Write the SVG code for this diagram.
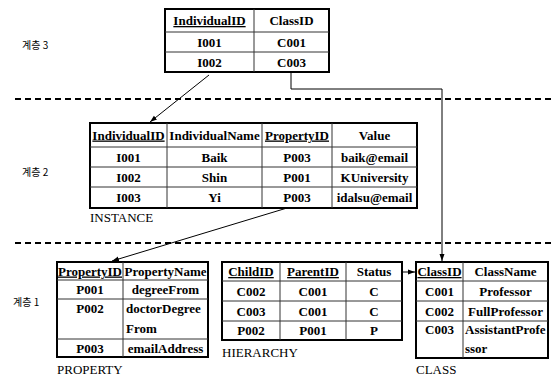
<svg xmlns="http://www.w3.org/2000/svg" width="555" height="376" viewBox="0 0 555 376">
<style>
.bg{fill:#fff}
.outer{fill:#fff;stroke:#000;stroke-width:2}
.grid{stroke:#333;stroke-width:1;fill:none}
.c{font-family:"Liberation Serif","Times New Roman",serif;font-weight:bold;font-size:13px;fill:#000;text-anchor:middle}
.l{font-family:"Liberation Serif","Times New Roman",serif;font-weight:bold;font-size:13px;fill:#000;text-anchor:start}
.u{text-decoration:underline}
.cap{font-family:"Liberation Serif","Times New Roman",serif;font-size:13px;fill:#000}
.layer{font-family:"Noto Sans CJK KR","Noto Sans",sans-serif;font-size:10px;fill:#000}
.dash{stroke:#000;stroke-width:2;stroke-dasharray:6 4;fill:none}
.conn{stroke:#000;stroke-width:1;fill:none}
</style>
<defs>
<marker id="arr" markerUnits="userSpaceOnUse" markerWidth="8" markerHeight="6" refX="7" refY="3" orient="auto">
<path d="M0,0.5 L7,3 L0,5.5 Z" fill="#000"/>
</marker>
</defs>
<rect class="bg" x="0" y="0" width="555" height="376"/>

<g id="separators">
<line class="dash" x1="15" y1="99" x2="555" y2="99"/>
<line class="dash" x1="15" y1="243" x2="555" y2="243"/>
</g>

<g id="layer-labels">
<text class="layer" x="22" y="49">계층 3</text>
<text class="layer" x="22" y="176">계층 2</text>
<text class="layer" x="13" y="306">계층 1</text>
</g>

<g id="table-layer3">
<rect class="outer" x="165" y="9" width="164" height="63"/>
<path class="grid" d="M254,9 V72 M165,32 H329 M165,52 H329"/>
<text class="c u" x="209.5" y="25">IndividualID</text>
<text class="c" x="291.5" y="25">ClassID</text>
<text class="c" x="209.5" y="46.5">I001</text>
<text class="c" x="291.5" y="46.5">C001</text>
<text class="c" x="209.5" y="66.5">I002</text>
<text class="c" x="291.5" y="66.5">C003</text>
</g>

<g id="table-instance">
<rect class="outer" x="90" y="123" width="327" height="85"/>
<path class="grid" d="M167,123 V208 M262,123 V208 M332,123 V208 M90,147 H417 M90,167 H417 M90,187 H417"/>
<text class="c u" x="128.5" y="139.5">IndividualID</text>
<text class="c" x="214.5" y="139.5">IndividualName</text>
<text class="c u" x="297" y="139.5">PropertyID</text>
<text class="c" x="374.5" y="139.5">Value</text>
<text class="c" x="128.5" y="161.5">I001</text>
<text class="c" x="214.5" y="161.5">Baik</text>
<text class="c" x="297" y="161.5">P003</text>
<text class="c" x="374.5" y="161.5">baik@email</text>
<text class="c" x="128.5" y="181.5">I002</text>
<text class="c" x="214.5" y="181.5">Shin</text>
<text class="c" x="297" y="181.5">P001</text>
<text class="c" x="374.5" y="181.5">KUniversity</text>
<text class="c" x="128.5" y="202">I003</text>
<text class="c" x="214.5" y="202">Yi</text>
<text class="c" x="297" y="202">P003</text>
<text class="c" x="374.5" y="202">idalsu@email</text>
<text class="cap" x="90" y="222">INSTANCE</text>
</g>

<g id="table-property">
<rect class="outer" x="57" y="262" width="151" height="95"/>
<path class="grid" d="M123,262 V357 M57,280 H208 M57,299 H208 M57,339 H208"/>
<text class="c u" x="90" y="275.5">PropertyID</text>
<text class="c" x="165.5" y="275.5">PropertyName</text>
<text class="c" x="90" y="294">P001</text>
<text class="c" x="165.5" y="294">degreeFrom</text>
<text class="c" x="90" y="313">P002</text>
<text class="l" x="126" y="313">doctorDegree</text>
<text class="l" x="126" y="333">From</text>
<text class="c" x="90" y="352.5">P003</text>
<text class="c" x="165.5" y="352.5">emailAddress</text>
<text class="cap" x="57" y="374">PROPERTY</text>
</g>

<g id="table-hierarchy">
<rect class="outer" x="222" y="262" width="180" height="78"/>
<path class="grid" d="M280,262 V340 M346,262 V340 M222,281 H402 M222,301 H402 M222,321 H402"/>
<text class="c u" x="251" y="276">ChildID</text>
<text class="c u" x="313" y="276">ParentID</text>
<text class="c" x="374" y="276">Status</text>
<text class="c" x="251" y="295.5">C002</text>
<text class="c" x="313" y="295.5">C001</text>
<text class="c" x="374" y="295.5">C</text>
<text class="c" x="251" y="315.5">C003</text>
<text class="c" x="313" y="315.5">C001</text>
<text class="c" x="374" y="315.5">C</text>
<text class="c" x="251" y="335">P002</text>
<text class="c" x="313" y="335">P001</text>
<text class="c" x="374" y="335">P</text>
<text class="cap" x="222" y="357">HIERARCHY</text>
</g>

<g id="table-class">
<rect class="outer" x="416" y="262" width="132" height="96"/>
<path class="grid" d="M463,262 V358 M416,281 H548 M416,301 H548 M416,321 H548"/>
<text class="c u" x="439.5" y="276">ClassID</text>
<text class="c" x="505.5" y="276">ClassName</text>
<text class="c" x="439.5" y="295.5">C001</text>
<text class="c" x="505.5" y="295.5">Professor</text>
<text class="c" x="439.5" y="315.5">C002</text>
<text class="c" x="505.5" y="315.5">FullProfessor</text>
<text class="c" x="439.5" y="334">C003</text>
<text class="l" x="465" y="334">AssistantProfe</text>
<text class="l" x="465" y="353">ssor</text>
<text class="cap" x="416" y="374">CLASS</text>
</g>

<g id="connectors">
<polyline class="conn" points="291,72 291,89 442,89 442,261" marker-end="url(#arr)"/>
<line class="conn" x1="209" y1="75" x2="150" y2="122" marker-end="url(#arr)"/>
<line class="conn" x1="287" y1="208" x2="112" y2="261" marker-end="url(#arr)"/>
<line class="conn" x1="402" y1="272" x2="415" y2="272" marker-end="url(#arr)"/>
</g>
</svg>
